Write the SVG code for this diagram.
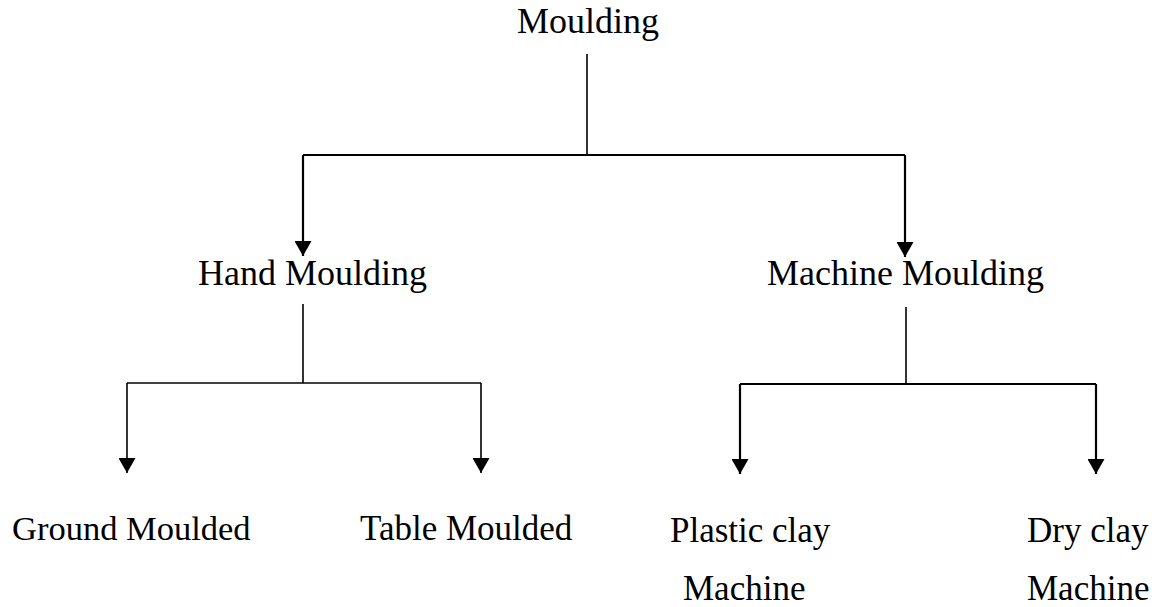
<svg xmlns="http://www.w3.org/2000/svg" width="1163" height="607" viewBox="0 0 1163 607">
<style>
text{font-family:"Liberation Serif","Times New Roman",serif;font-size:36px;fill:#000}
.c{fill:none;stroke:#000;stroke-width:1.6}
.t{stroke-width:2.2}
</style>
<defs>
<marker id="ah" viewBox="0 0 15 17" refX="15" refY="8.5" markerWidth="15" markerHeight="17" markerUnits="userSpaceOnUse" orient="auto">
<path d="M0,0 L15,8.5 L0,17 Z" fill="#000"/>
</marker>
</defs>
<rect width="1163" height="607" fill="#fff"/>
<g id="connectors">
<path class="c" d="M587,54 V155"/>
<path class="c t" d="M303,155 H905"/>
<path class="c t" d="M303,155 V256" marker-end="url(#ah)"/>
<path class="c t" d="M905,155 V257" marker-end="url(#ah)"/>
<path class="c" d="M303,304 V383"/>
<path class="c" d="M127,383 H481"/>
<path class="c" d="M127,383 V473" marker-end="url(#ah)"/>
<path class="c" d="M481,383 V473" marker-end="url(#ah)"/>
<path class="c" d="M906,307 V384"/>
<path class="c t" d="M740,384 H1096"/>
<path class="c t" d="M740,384 V474" marker-end="url(#ah)"/>
<path class="c t" d="M1096,384 V474" marker-end="url(#ah)"/>
</g>
<g id="n-moulding"><text x="517" y="33">Moulding</text></g>
<g id="n-hand"><text x="198" y="285">Hand Moulding</text></g>
<g id="n-machine"><text x="767" y="285">Machine Moulding</text></g>
<g id="n-ground"><text x="12" y="540" style="font-size:34.5px">Ground Moulded</text></g>
<g id="n-table"><text x="360" y="540" style="font-size:35px">Table Moulded</text></g>
<g id="n-plastic"><text x="670" y="542" style="font-size:35px">Plastic clay</text><text x="683" y="600" style="font-size:35px">Machine</text></g>
<g id="n-dry"><text x="1027" y="542" style="font-size:35px">Dry clay</text><text x="1027" y="600" style="font-size:35px">Machine</text></g>
</svg>
